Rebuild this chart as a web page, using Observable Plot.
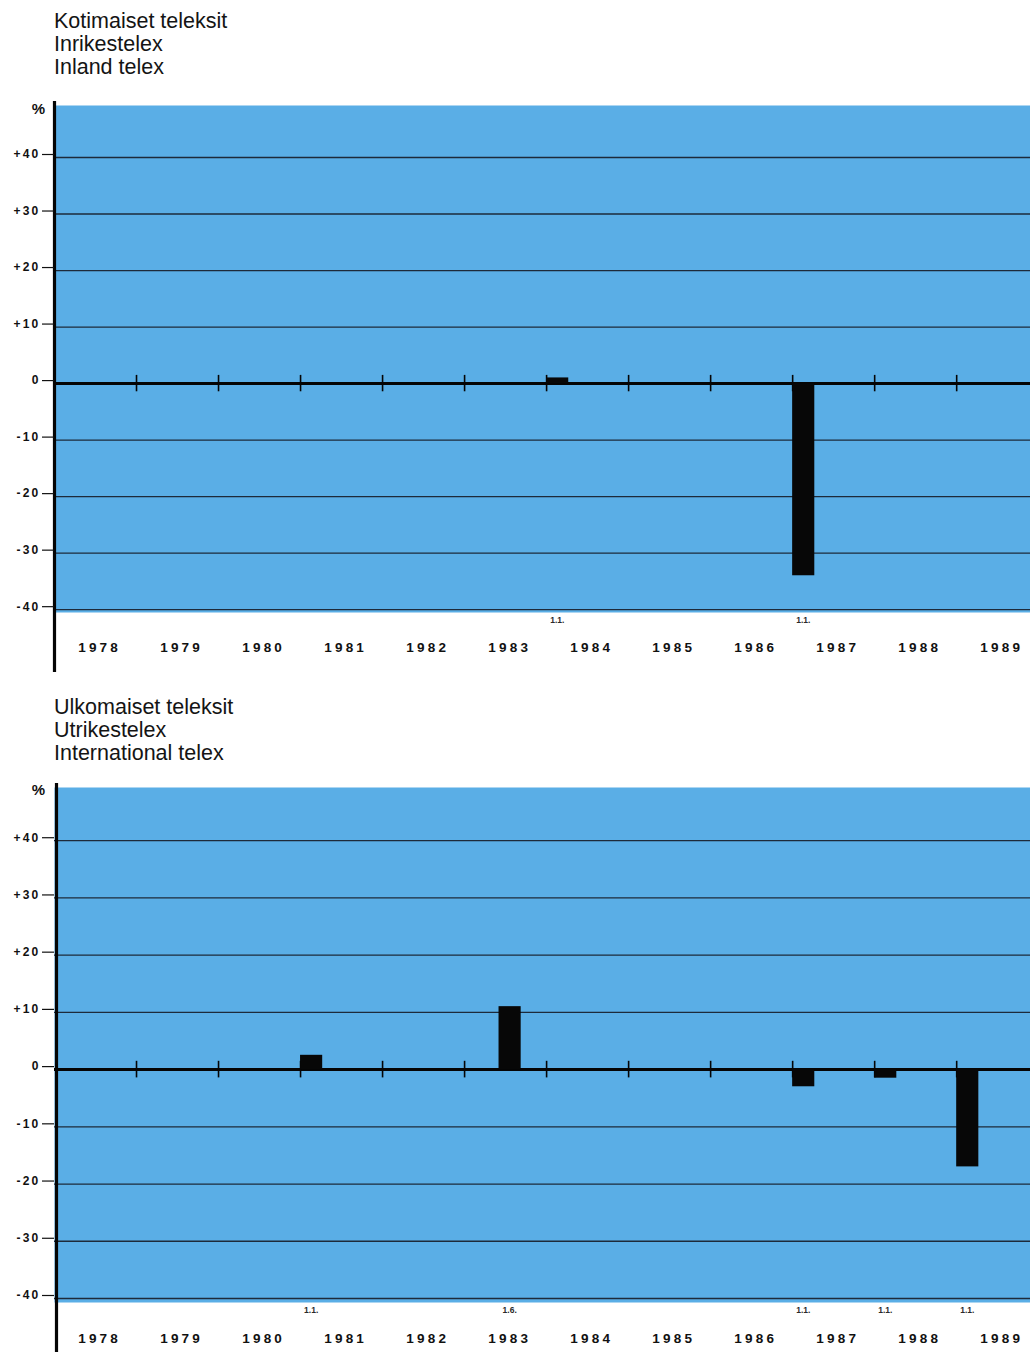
<!DOCTYPE html>
<html><head><meta charset="utf-8">
<script src="https://cdn.jsdelivr.net/npm/d3@7"></script>
<script src="https://cdn.jsdelivr.net/npm/@observablehq/plot@0.6"></script>
<style>
body{margin:0;background:#fff;width:1030px;height:1352px;position:relative;overflow:hidden;font-family:"Liberation Sans",Arial,sans-serif}
.title{position:absolute;left:54px;font-size:21.5px;line-height:23px;color:#141414}
.panel{position:absolute;left:0}
.panel svg{overflow:visible}
</style></head><body>
<div class="title" style="top:10px">Kotimaiset teleksit<br>Inrikestelex<br>Inland telex</div>
<div id="p1" class="panel" style="top:95px"></div>
<div class="title" style="top:696px">Ulkomaiset teleksit<br>Utrikestelex<br>International telex</div>
<div id="p2" class="panel" style="top:777px"></div>
<script>
const years = [1978,1979,1980,1981,1982,1983,1984,1985,1986,1987,1988,1989];
const yearTicks = [1979,1980,1981,1982,1983,1984,1985,1986,1987,1988,1989];
const yTicks = [-40,-30,-20,-10,0,10,20,30,40];
const gridValues = [-40,-30,-20,-10,10,20,30,40];

// Inland telex: tariff change dates (decimal year), labels, % change
const inlandDates = [1984.0, 1987.0];
const inlandDateLabels = ["1.1.", "1.1."];
const inlandChange = [1, -34];

// International telex
const intlDates = [1981.0, 1983.42, 1987.0, 1988.0, 1989.0];
const intlDateLabels = ["1.1.", "1.6.", "1.1.", "1.1.", "1.1."];
const intlChange = [2.5, 11, -3, -1.5, -17];

const BLUE = "#5aaee6";
const BAR_W = 0.27;

function fmt(d){ return d > 0 ? "+" + d : d < 0 ? "-" + (-d) : "0"; }

function panel(dates, labels, values, cfg){
  const data = dates.map((d,i)=>({date:d, label:labels[i], value:values[i]}));
  const svg = Plot.plot({
    width: 1030,
    height: cfg.height,
    marginLeft: 54,
    marginRight: 0,
    marginTop: cfg.marginTop,
    marginBottom: cfg.marginBottom,
    style: {fontFamily: '"Liberation Sans", Arial, sans-serif', color: "#111", background: "transparent", overflow: "visible"},
    x: {domain: [1978, 1989.9], axis: null},
    y: {domain: cfg.yDomain, axis: null},
    marks: [
      Plot.frame({fill: BLUE, stroke: null}),
      Plot.ruleY(gridValues, {stroke: "#1d2a3a", strokeWidth: 1.3}),
      Plot.ruleY([0], {stroke: "#050505", strokeWidth: 3}),
      Plot.ruleX(yearTicks, {y1: -1.45, y2: 1.45, stroke: "#050505", strokeWidth: 1.6}),
      Plot.rect(data, {x1: "date", x2: d => d.date + BAR_W, y1: 0, y2: "value", fill: "#070707"}),
      Plot.ruleX([1978], {stroke: "#050505", strokeWidth: 3.2, dx: cfg.axisDx, insetTop: -4, insetBottom: -cfg.marginBottom}),
      Plot.axisY(yTicks, {label: null, tickSize: 12, tickPadding: 2, tickFormat: fmt, fontSize: 12, fontWeight: "bold", dy: -3, stroke: "#111", strokeWidth: 1.2}),
      Plot.text(["%"], {frameAnchor: "top-left", textAnchor: "middle", lineAnchor: "middle", dx: -16, dy: cfg.pctDy, fontSize: 15, fontWeight: "bold", fill: "#111"}),
      Plot.text(data, {x: d => d.date + 0.13, text: "label", frameAnchor: "bottom", lineAnchor: "middle", dy: 8, fontSize: 8.5, fontWeight: "bold", fill: "#2a2a2a"}),
      Plot.text(years, {x: d => d + 0.55, text: d => String(d), frameAnchor: "bottom", lineAnchor: "middle", dy: cfg.yearDy, fontSize: 13.5, fontWeight: "bold", fill: "#111"})
    ]
  });
  d3.select(svg).selectAll("text").each(function(){
    const t = this.textContent;
    if (/^\d{4}$/.test(t)) this.setAttribute("letter-spacing", "3.2px");
    else if (/^[+\-]\d+$/.test(t) || t === "0") this.setAttribute("letter-spacing", "2.2px");
  });
  return svg;
}

document.getElementById("p1").appendChild(panel(inlandDates, inlandDateLabels, inlandChange, {
  height: 577, marginTop: 10, marginBottom: 60, yDomain: [-40.5, 49.2], axisDx: 0, pctDy: 4, yearDy: 35
}));
document.getElementById("p2").appendChild(panel(intlDates, intlDateLabels, intlChange, {
  height: 575, marginTop: 10, marginBottom: 50, yDomain: [-40.7, 49.3], axisDx: 2, pctDy: 3, yearDy: 36
}));
</script>
</body></html>
